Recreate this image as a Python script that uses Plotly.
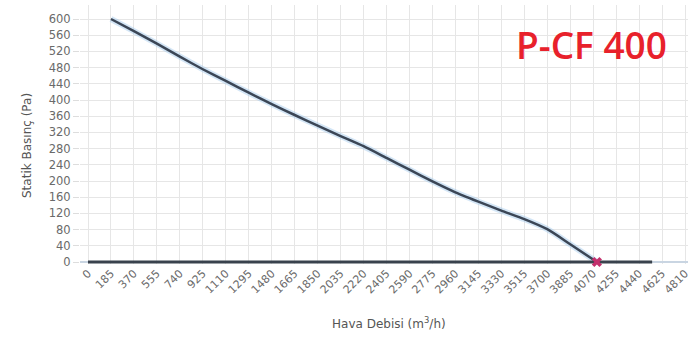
import plotly.graph_objects as go

# Data
flow = [185, 370, 555, 740, 925, 1110, 1295, 1480, 1665, 1850, 2035, 2220,
        2405, 2590, 2775, 2960, 3145, 3330, 3515, 3700, 3885, 4100]
pressure = [600, 570, 539, 507, 476, 447, 418, 390, 363, 337, 311, 286,
            257, 228, 199, 172, 149, 127, 106, 81, 44, 0]
zero_x = [0, 4545]
zero_y = [0, 0]
op_x = [4100]
op_y = [0]
x_ticks = [185 * i for i in range(27)]
y_ticks = [40 * i for i in range(16)]
title_text = "P-CF 400"
x_title = "Hava Debisi (m<sup>3</sup>/h)"
y_title = "Statik Basınç (Pa)"

fig = go.Figure()
# soft glow under the curve
fig.add_trace(go.Scatter(x=flow, y=pressure, mode="lines",
                         line=dict(color="rgba(160,200,235,0.45)", width=6,
                                   shape="spline", smoothing=0.6),
                         hoverinfo="skip", showlegend=False))
fig.add_trace(go.Scatter(x=flow, y=pressure, mode="lines",
                         line=dict(color="#3b4656", width=2.5,
                                   shape="spline", smoothing=0.6),
                         showlegend=False))
fig.add_trace(go.Scatter(x=zero_x, y=zero_y, mode="lines",
                         line=dict(color="#39424d", width=3),
                         showlegend=False))
fig.add_trace(go.Scatter(x=op_x, y=op_y, mode="markers",
                         marker=dict(symbol="x", size=9, color="#c3306c",
                                     line=dict(width=0)),
                         cliponaxis=False, showlegend=False))

tick_font = dict(family="DejaVu Sans", size=11, color="#6a6a6a")

fig.update_layout(
    width=691, height=337,
    margin=dict(l=80, r=3, t=5, b=73),
    paper_bgcolor="white", plot_bgcolor="white",
    xaxis=dict(range=[-64.5, 4834], tickmode="array", tickvals=x_ticks,
               ticktext=[str(v) for v in x_ticks], tickangle=-45,
               tickfont=tick_font, showgrid=True, gridcolor="#e6e6e6",
               gridwidth=1, zeroline=False, showline=False, ticks="",
               automargin=False, ticklabeloverflow="allow"),
    yaxis=dict(range=[-4.9, 634.6], tickmode="array", tickvals=y_ticks,
               ticktext=[str(v) for v in y_ticks],
               tickfont=dict(family="DejaVu Sans", size=11.5, color="#6a6a6a"),
               showgrid=True, gridcolor="#e6e6e6", gridwidth=1,
               zeroline=True, zerolinecolor="#c9d5e2", zerolinewidth=2,
               ticks="outside", ticklen=6, tickcolor="#dddddd",
               showline=False, automargin=False),
    annotations=[
        dict(text=title_text, x=4060, y=538, xref="x", yref="y",
             xanchor="center", yanchor="middle", showarrow=False,
             font=dict(family="Open Sans", size=37, color="#e8212b", weight=600)),
        dict(text=x_title, x=0.508, y=-0.228, xref="paper", yref="paper",
             xanchor="center", yanchor="middle", showarrow=False,
             font=dict(family="DejaVu Sans", size=12, color="#555555")),
        dict(text=y_title, x=-0.087, y=0.456, xref="paper", yref="paper",
             xanchor="center", yanchor="middle", showarrow=False, textangle=-90,
             font=dict(family="DejaVu Sans", size=12, color="#555555")),
    ],
)

fig.write_html("out.html",
               config={"displayModeBar": False},
               post_script="document.body.style.margin='0px';")
